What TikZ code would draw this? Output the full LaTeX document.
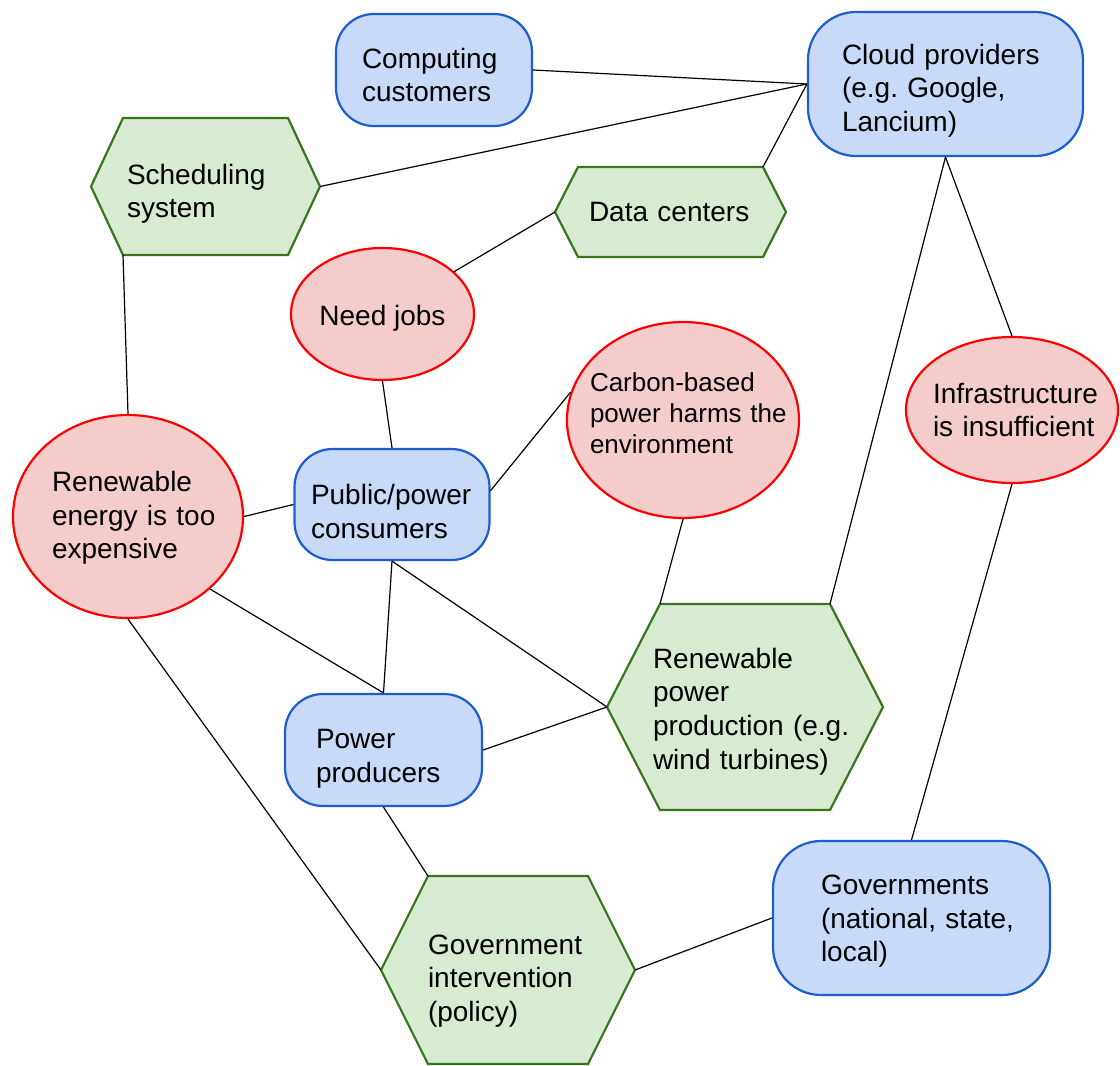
\documentclass[tikz,border=0pt]{standalone}
\usepackage{fontspec}
\setmainfont{Liberation Sans}
\usetikzlibrary{shapes.geometric,calc,backgrounds}
\frenchspacing

\definecolor{bluefill}{HTML}{C9DAF8}
\definecolor{blueline}{HTML}{1C5DD0}
\definecolor{redfill}{HTML}{F4CCCC}
\definecolor{redline}{HTML}{FF0000}
\definecolor{greenfill}{HTML}{D9EAD3}
\definecolor{greenline}{HTML}{38761D}

\begin{document}
\begin{tikzpicture}[x=1pt,y=-1pt,
  every node/.style={font=\fontsize{28}{33.6}\selectfont, inner sep=0pt, align=left},
  actor/.style={draw=blueline, fill=bluefill, line width=2.2pt, rounded corners=#1},
  issue/.style={ellipse, draw=redline, fill=redfill, line width=2.2pt,
                inner xsep=-20pt, inner ysep=0pt},
  hexbody/.style={outer sep=0pt},
  hexline/.style={draw=greenline, fill=greenfill, line width=2.2pt, line join=miter},
  link/.style={draw=black, line width=1.2pt},
  % vertical placement of a text block: a taller first line or a deeper last line
  textdown/.style={execute at begin node={\rule{0pt}{#1}}},
  textup/.style={execute at end node={\rule[-#1]{0pt}{0pt}}}
]
\useasboundingbox (0,0) rectangle (1120,1066);

% stakeholders (rounded boxes)
\node[actor=38pt, minimum width=196pt, minimum height=112pt, text width=144pt,
      textdown=30pt] (comp) at (434,70)
  {Computing\\customers};
\node[actor=48pt, minimum width=275pt, minimum height=144pt, text width=207pt,
      textdown=33pt] (cloud) at (945.5,84)
  {Cloud providers\\(e.g. Google,\\Lancium)};
\node[actor=38pt, minimum width=195pt, minimum height=111pt, text width=162pt,
      textdown=34pt] (pub) at (392,504.5)
  {Public/power\\consumers};
\node[actor=38pt, minimum width=197pt, minimum height=112pt, text width=135pt,
      textdown=37pt] (prod) at (383.5,750)
  {Power\\producers};
\node[actor=48pt, minimum width=277pt, minimum height=154pt, text width=181pt,
      textdown=26pt] (gov) at (911.5,918)
  {Governments\\\mbox{(national, state,}\\local)};

% problems (ellipses)
\node[issue, minimum width=183pt, minimum height=132pt, textdown=28pt] (jobs)
  at (382.5,314) {Need jobs};
\node[issue, minimum width=232pt, minimum height=196pt, text width=186pt,
      font=\fontsize{26}{31}\selectfont, textup=14pt] (carbon) at (683,420)
  {Carbon-based\\\mbox{power harms the}\\environment};
\node[issue, minimum width=230pt, minimum height=203pt, text width=152pt,
      textdown=23pt] (cheap) at (128,516.5)
  {Renewable\\\mbox{energy is too}\\expensive};
\node[issue, minimum width=212pt, minimum height=146pt, text width=158pt] (infra)
  at (1012,410)
  {Infrastructure\\\mbox{is insufficient}};

% systems (hexagons): text nodes, outlines drawn below from their corners
\node[hexbody, minimum width=165pt, minimum height=137pt, text width=157pt,
      textdown=35pt] (sched) at (205.5,186.5) {Scheduling\\system};
\node[hexbody, minimum width=185pt, minimum height=90pt, text width=163pt] (dc)
  at (670.5,212) {Data centers};
\node[hexbody, minimum width=170pt, minimum height=206pt, text width=184pt,
      textdown=29pt] (rpp) at (745,707)
  {Renewable\\power\\\mbox{production (e.g.}\\wind turbines)};
\node[hexbody, minimum width=160pt, minimum height=188pt, text width=160pt,
      textdown=41pt] (gi) at (508,970)
  {Government\\intervention\\(policy)};

% hexagon corners: half top width, half full width, half height
\foreach \n/\a/\b/\h in {sched/82.5/114.5/68.5, dc/92.5/115.5/45,
                         rpp/85/138/103, gi/80/127/94} {
  \coordinate (\n-w)  at ($(\n.center)+(-\b,0)$);
  \coordinate (\n-e)  at ($(\n.center)+(\b,0)$);
  \coordinate (\n-nw) at ($(\n.center)+(-\a,-\h)$);
  \coordinate (\n-ne) at ($(\n.center)+(\a,-\h)$);
  \coordinate (\n-sw) at ($(\n.center)+(-\a,\h)$);
  \coordinate (\n-se) at ($(\n.center)+(\a,\h)$);
}

\begin{scope}[on background layer]
  \fill[white] (0,0) rectangle (1120,1066);
  \foreach \n in {sched,dc,rpp,gi}
    \path[hexline] (\n-nw) -- (\n-ne) -- (\n-e) -- (\n-se) -- (\n-sw) -- (\n-w) -- cycle;
\end{scope}

% relations
\draw[link] (comp.east) -- (cloud.west);
\draw[link] (sched-e) -- (cloud.west);
\draw[link] (dc-ne) -- (cloud.west);
\draw[link] (jobs) -- (dc-w);
\draw[link] (sched-sw) -- (cheap.north);
\draw[link] (jobs.south) -- (pub.north);
\draw[link] (pub.8) -- (carbon.166);
\draw[link] (cheap.east) -- (pub.west);
\draw[link] (cheap.south east) -- (prod.north);
\draw[link] (pub.south) -- (prod.north);
\draw[link] (pub.south) -- (rpp-w);
\draw[link] (carbon.south) -- (rpp-nw);
\draw[link] (cloud.south) -- (rpp-ne);
\draw[link] (cloud.south) -- (infra.north);
\draw[link] (infra.south) -- (gov.north);
\draw[link] (prod.east) -- (rpp-w);
\draw[link] (prod.south) -- (gi-nw);
\draw[link] (cheap.south) -- (gi-w);
\draw[link] (gi-e) -- (gov.west);
\end{tikzpicture}
\end{document}
